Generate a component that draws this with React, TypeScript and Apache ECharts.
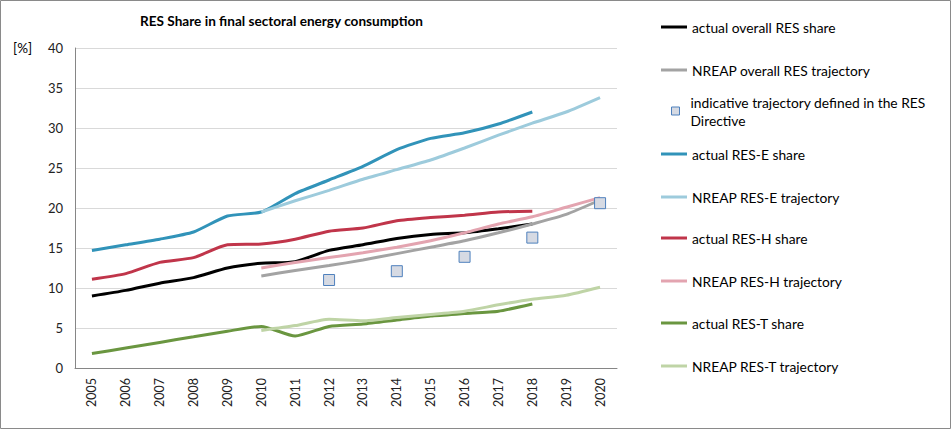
import React from 'react';
import * as echarts from 'echarts';

const years = ['2005', '2006', '2007', '2008', '2009', '2010', '2011', '2012', '2013', '2014', '2015', '2016', '2017', '2018', '2019', '2020'];

const actualOverall = [9.0, 9.7, 10.6, 11.3, 12.5, 13.1, 13.3, 14.7, 15.4, 16.2, 16.7, 16.9, 17.4, 18.0, null, null];
const nreapOverall = [null, null, null, null, null, 11.5, 12.2, 12.8, 13.5, 14.3, 15.1, 15.9, 16.9, 18.0, 19.2, 21.0];
const indicative = [null, null, null, null, null, null, null, 11.0, null, 12.1, null, 13.9, null, 16.3, null, 20.6];
const actualE = [14.7, 15.4, 16.1, 17.0, 19.0, 19.5, 21.8, 23.5, 25.2, 27.3, 28.7, 29.4, 30.5, 32.0, null, null];
const nreapE = [null, null, null, null, null, 19.5, 20.9, 22.2, 23.6, 24.8, 26.0, 27.5, 29.1, 30.6, 32.0, 33.8];
const actualH = [11.1, 11.8, 13.2, 13.8, 15.4, 15.5, 16.1, 17.1, 17.5, 18.4, 18.8, 19.1, 19.5, 19.6, null, null];
const nreapH = [null, null, null, null, null, 12.5, 13.2, 13.8, 14.4, 15.1, 15.9, 16.9, 18.0, 18.9, 20.1, 21.3];
const actualT = [1.8, 2.5, 3.2, 3.9, 4.6, 5.2, 4.0, 5.2, 5.5, 6.0, 6.5, 6.8, 7.1, 8.0, null, null];
const nreapT = [null, null, null, null, null, 4.7, 5.3, 6.1, 5.9, 6.3, 6.7, 7.1, 7.9, 8.6, 9.1, 10.1];

const lineDefs = [
  { name: 'actual overall RES share', data: actualOverall, color: '#000000', legendTop: 18 },
  { name: 'NREAP overall RES trajectory', data: nreapOverall, color: '#a3a3a3', legendTop: 61 },
  { name: 'actual RES-E share', data: actualE, color: '#3193b9', legendTop: 145 },
  { name: 'NREAP RES-E trajectory', data: nreapE, color: '#9dcbdc', legendTop: 188 },
  { name: 'actual RES-H share', data: actualH, color: '#c0354a', legendTop: 229 },
  { name: 'NREAP RES-H trajectory', data: nreapH, color: '#e3a4b0', legendTop: 272 },
  { name: 'actual RES-T share', data: actualT, color: '#6a9640', legendTop: 314 },
  { name: 'NREAP RES-T trajectory', data: nreapT, color: '#bfd4a6', legendTop: 357 },
];

const indicativeName = 'indicative trajectory defined in the RES\nDirective';
const font = 'Lato, "Open Sans", sans-serif';

export default function App() {
  const chartRef = React.useRef<HTMLDivElement>(null);

  React.useEffect(() => {
    if (!chartRef.current) return;
    const chart = echarts.init(chartRef.current, null, { renderer: 'svg' });

    const lineSeries = lineDefs.map((d) => ({
      name: d.name,
      type: 'line',
      data: d.data,
      smooth: 0.2,
      symbol: 'none',
      connectNulls: false,
      lineStyle: { width: 3, color: d.color },
      itemStyle: { color: d.color },
      z: 2,
    }));

    const legendText = { fontFamily: font, fontSize: 13.8, color: '#000', lineHeight: 18 };

    const legends: any[] = lineDefs.map((d) => ({
      data: [d.name],
      orient: 'vertical',
      left: 661,
      top: d.legendTop,
      padding: 0,
      icon: 'rect',
      itemWidth: 26,
      itemHeight: 3,
      selectedMode: false,
      textStyle: legendText,
    }));
    legends.push({
      data: [indicativeName],
      orient: 'vertical',
      left: 671,
      top: 84,
      padding: 0,
      icon: 'rect',
      itemWidth: 8,
      itemHeight: 8,
      selectedMode: false,
      itemStyle: { color: '#d6dae3', borderColor: '#4f81bd', borderWidth: 1 },
      textStyle: { ...legendText, padding: [18, 0, 0, 6] },
    });

    chart.setOption({
      animation: false,
      backgroundColor: '#ffffff',
      textStyle: { fontFamily: font },
      title: {
        text: 'RES Share in final sectoral energy consumption',
        left: 140,
        top: 14,
        padding: 0,
        textStyle: { fontFamily: font, fontSize: 13.6, fontWeight: 'bold', color: '#000' },
      },
      legend: legends,
      grid: { left: 75, right: 334, top: 48, bottom: 61 },
      xAxis: {
        type: 'category',
        data: years,
        boundaryGap: true,
        axisLine: { lineStyle: { color: '#868686' } },
        axisTick: { show: false },
        axisLabel: { rotate: 90, margin: 10, fontSize: 12.5, color: '#222', fontFamily: font },
      },
      yAxis: {
        type: 'value',
        min: 0,
        max: 40,
        interval: 5,
        axisLine: { show: true, lineStyle: { color: '#868686' } },
        axisTick: { show: false },
        axisLabel: { fontSize: 13, color: '#222', margin: 12, fontFamily: font },
        splitLine: { lineStyle: { color: '#d9d9d9' } },
      },
      graphic: [
        {
          type: 'rect',
          shape: { x: 0.5, y: 0.5, width: 950, height: 428 },
          style: { fill: 'none', stroke: '#8a8a8a', lineWidth: 1 },
          silent: true,
        },
        {
          type: 'text',
          left: 13,
          top: 41,
          style: { text: '[%]', fontFamily: font, fontSize: 13.5, fill: '#000' },
        },
      ],
      series: [
        lineSeries[0],
        lineSeries[1],
        {
          name: indicativeName,
          type: 'scatter',
          data: indicative,
          symbol: 'rect',
          symbolSize: 11,
          itemStyle: { color: '#d6dae3', borderColor: '#4f81bd', borderWidth: 1, opacity: 1 },
          z: 3,
        },
        ...lineSeries.slice(2),
      ],
    });

    return () => {
      chart.dispose();
    };
  }, []);

  return <div ref={chartRef} style={{ position: 'fixed', left: 0, top: 0, width: 951, height: 429 }} />;
}
